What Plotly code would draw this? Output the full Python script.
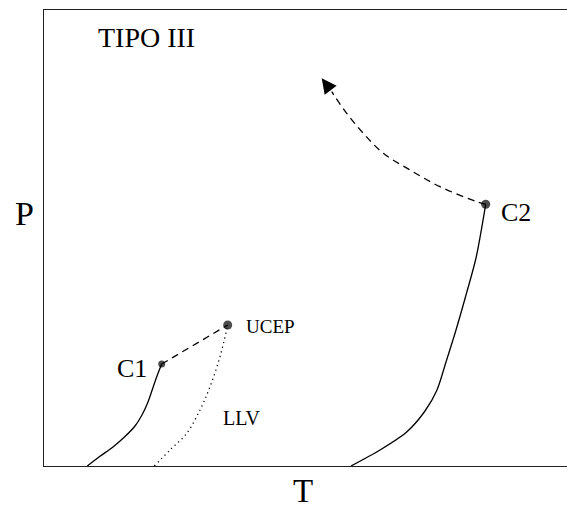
import plotly.graph_objects as go

# Phase diagram, type III behaviour: P-T projection (arbitrary units)

# Vapour-pressure curve of component 1, ending at its critical point C1
t_vap1 = [43.3, 56.0, 69.3, 81.0, 91.0, 98.5, 104.0, 108.5, 113.0, 117.7]
p_vap1 = [0.0, 9.7, 19.3, 29.5, 40.0, 52.0, 64.0, 77.0, 90.0, 102.0]

# Short critical branch from C1 to the upper critical end point
t_crit1 = [117.7, 183.7]
p_crit1 = [102.0, 141.0]

# Liquid-liquid-vapour three-phase line ending at UCEP
t_llv = [110.3, 126.0, 142.7, 156.0, 166.0, 176.0, 183.7]
p_llv = [0.0, 16.0, 32.7, 56.0, 79.3, 109.3, 141.0]

# Vapour-pressure curve of component 2, ending at its critical point C2
t_vap2 = [307.0, 336.0, 362.7, 381.0, 393.0, 402.0, 412.0, 422.0, 432.0, 441.7]
p_vap2 = [0.0, 16.0, 34.0, 55.0, 76.0, 104.0, 136.0, 171.0, 208.0, 261.7]

# Critical branch leaving C2 towards high pressure
t_crit2 = [441.7, 432.7, 396.0, 366.0, 339.3, 319.3, 302.7, 291.0, 287.7]
p_crit2 = [261.7, 264.3, 279.3, 296.0, 312.7, 332.7, 352.7, 369.3, 374.3]
t_arrow_tip, p_arrow_tip = 277.7, 387.7

# Labelled points
point_names = ["C1", "UCEP", "C2"]
point_t = [117.7, 183.7, 441.7]
point_p = [102.0, 141.0, 261.7]
point_sizes = [7, 9, 9]

SERIF = "Liberation Serif, Times New Roman, serif"
INK = "#000000"

fig = go.Figure()

fig.add_trace(go.Scatter(x=t_vap1, y=p_vap1, mode="lines",
                         line=dict(color=INK, width=1.3, shape="spline", smoothing=0.8)))
fig.add_trace(go.Scatter(x=t_crit1, y=p_crit1, mode="lines",
                         line=dict(color=INK, width=1.3, dash="7px,5px")))
fig.add_trace(go.Scatter(x=t_llv, y=p_llv, mode="lines",
                         line=dict(color=INK, width=1.3, dash="1.2px,3.6px", shape="spline")))
fig.add_trace(go.Scatter(x=t_vap2, y=p_vap2, mode="lines",
                         line=dict(color=INK, width=1.3, shape="spline", smoothing=0.8)))
fig.add_trace(go.Scatter(x=t_crit2, y=p_crit2, mode="lines",
                         line=dict(color=INK, width=1.3, dash="7px,5px", shape="spline")))
fig.add_trace(go.Scatter(x=point_t, y=point_p, mode="markers",
                         marker=dict(color=INK, size=point_sizes, line=dict(width=0))))

# arrow head at the end of the C2 critical branch
fig.add_annotation(x=t_arrow_tip, y=p_arrow_tip, ax=t_crit2[-1], ay=p_crit2[-1],
                   xref="x", yref="y", axref="x", ayref="y",
                   showarrow=True, arrowhead=2, arrowsize=2.3, arrowwidth=1.3,
                   arrowcolor=INK, standoff=0, startstandoff=0, text="")

# point labels
fig.add_annotation(x=point_t[0], y=point_p[0], text="C1", showarrow=False,
                   xanchor="right", yanchor="middle", xshift=-13, yshift=-4,
                   font=dict(family=SERIF, size=26, color=INK))
fig.add_annotation(x=point_t[1], y=point_p[1], text="UCEP", showarrow=False,
                   xanchor="left", yanchor="middle", xshift=16, yshift=-1,
                   font=dict(family=SERIF, size=19, color=INK))
fig.add_annotation(x=point_t[2], y=point_p[2], text="C2", showarrow=False,
                   xanchor="left", yanchor="middle", xshift=13, yshift=-8,
                   font=dict(family=SERIF, size=26, color=INK))
fig.add_annotation(x=198.0, y=48.5, text="LLV", showarrow=False,
                   xanchor="center", yanchor="middle",
                   font=dict(family=SERIF, size=20, color=INK))
fig.add_annotation(x=102.5, y=429.0, text="TIPO III", showarrow=False,
                   xanchor="center", yanchor="middle",
                   font=dict(family=SERIF, size=28, color=INK))

# axis titles
fig.add_annotation(xref="paper", yref="paper", x=-0.038, y=0.553, text="P",
                   showarrow=False, xanchor="center", yanchor="middle",
                   font=dict(family=SERIF, size=34, color=INK))
fig.add_annotation(xref="paper", yref="paper", x=0.496, y=-45 / 456, text="T",
                   showarrow=False, xanchor="center", yanchor="bottom",
                   font=dict(family=SERIF, size=33, color=INK))

fig.update_layout(
    width=567, height=511,
    margin=dict(l=44, r=0, t=10, b=45),
    paper_bgcolor="white", plot_bgcolor="white",
    showlegend=False,
    xaxis=dict(range=[0, 523], showgrid=False, zeroline=False, showticklabels=False,
               ticks="", showline=True, linecolor="#222222", linewidth=1.4, mirror=True),
    yaxis=dict(range=[0, 456], showgrid=False, zeroline=False, showticklabels=False,
               ticks="", showline=True, linecolor="#222222", linewidth=1.4),
)

fig.write_html("out.html")
